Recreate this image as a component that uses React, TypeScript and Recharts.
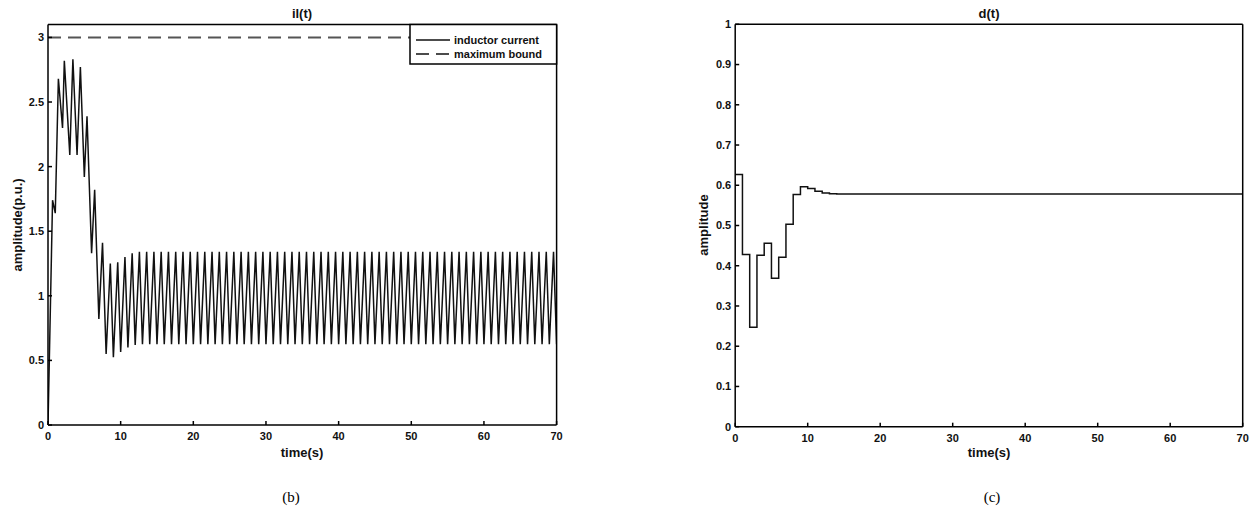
import React from 'react';
import { LineChart, Line, XAxis, YAxis } from 'recharts';

// time instants (s) of each switching period
const timeSteps = [
  0, 1, 2, 3, 4, 5, 6, 7, 8, 9,
  10, 11, 12, 13, 14, 15, 16, 17, 18, 19,
  20, 21, 22, 23, 24, 25, 26, 27, 28, 29,
  30, 31, 32, 33, 34, 35, 36, 37, 38, 39,
  40, 41, 42, 43, 44, 45, 46, 47, 48, 49,
  50, 51, 52, 53, 54, 55, 56, 57, 58, 59,
  60, 61, 62, 63, 64, 65, 66, 67, 68, 69,
  70,
];

// duty cycle d(t), held over each period
const dValues = [
  0.627, 0.428, 0.247, 0.426, 0.456, 0.369, 0.421, 0.503, 0.577, 0.596,
  0.592, 0.585, 0.581, 0.579, 0.578, 0.578, 0.578, 0.578, 0.578, 0.578,
  0.578, 0.578, 0.578, 0.578, 0.578, 0.578, 0.578, 0.578, 0.578, 0.578,
  0.578, 0.578, 0.578, 0.578, 0.578, 0.578, 0.578, 0.578, 0.578, 0.578,
  0.578, 0.578, 0.578, 0.578, 0.578, 0.578, 0.578, 0.578, 0.578, 0.578,
  0.578, 0.578, 0.578, 0.578, 0.578, 0.578, 0.578, 0.578, 0.578, 0.578,
  0.578, 0.578, 0.578, 0.578, 0.578, 0.578, 0.578, 0.578, 0.578, 0.578,
  0.578,
];

// inductor current at the start of each period (valleys)
const ilTroughs = [
  0, 1.64, 2.3, 2.09, 2.09, 1.92, 1.33, 0.82, 0.55, 0.525,
  0.565, 0.6, 0.62, 0.625, 0.625, 0.625, 0.625, 0.625, 0.625, 0.625,
  0.625, 0.625, 0.625, 0.625, 0.625, 0.625, 0.625, 0.625, 0.625, 0.625,
  0.625, 0.625, 0.625, 0.625, 0.625, 0.625, 0.625, 0.625, 0.625, 0.625,
  0.625, 0.625, 0.625, 0.625, 0.625, 0.625, 0.625, 0.625, 0.625, 0.625,
  0.625, 0.625, 0.625, 0.625, 0.625, 0.625, 0.625, 0.625, 0.625, 0.625,
  0.625, 0.625, 0.625, 0.625, 0.625, 0.625, 0.625, 0.625, 0.625, 0.625,
  0.625,
];

// inductor current at switch-off instant of each period (peaks)
const ilPeaks = [
  1.74, 2.68, 2.82, 2.83, 2.77, 2.39, 1.82, 1.41, 1.25, 1.26,
  1.3, 1.33, 1.34, 1.34, 1.34, 1.34, 1.34, 1.34, 1.34, 1.34,
  1.34, 1.34, 1.34, 1.34, 1.34, 1.34, 1.34, 1.34, 1.34, 1.34,
  1.34, 1.34, 1.34, 1.34, 1.34, 1.34, 1.34, 1.34, 1.34, 1.34,
  1.34, 1.34, 1.34, 1.34, 1.34, 1.34, 1.34, 1.34, 1.34, 1.34,
  1.34, 1.34, 1.34, 1.34, 1.34, 1.34, 1.34, 1.34, 1.34, 1.34,
  1.34, 1.34, 1.34, 1.34, 1.34, 1.34, 1.34, 1.34, 1.34, 1.34,
];

const boundTimes = [0, 70];
const boundValues = [3, 3];

const xTicks = [0, 10, 20, 30, 40, 50, 60, 70];
const ilTicks = [0, 0.5, 1, 1.5, 2, 2.5, 3];
const dTicks = [0, 0.1, 0.2, 0.3, 0.4, 0.5, 0.6, 0.7, 0.8, 0.9, 1];

const ilData: { t: number; il: number }[] = [];
for (let k = 0; k < ilPeaks.length; k++) {
  ilData.push({ t: timeSteps[k], il: ilTroughs[k] });
  ilData.push({ t: timeSteps[k] + dValues[k], il: ilPeaks[k] });
}
ilData.push({ t: timeSteps[timeSteps.length - 1], il: ilTroughs[ilTroughs.length - 1] });

const boundData = boundTimes.map((t, i) => ({ t, b: boundValues[i] }));
const dData = timeSteps.map((t, i) => ({ t, d: dValues[i] }));

const FONT = '"Liberation Sans", Arial, Helvetica, sans-serif';
const tickStyle = { fontFamily: FONT, fontSize: 11, fontWeight: 700, fill: '#111' };
const axisStroke = { stroke: '#000', strokeWidth: 1.5 };

function frameAxes(yDomain: [number, number], yTicks: number[], frameData: any[], key: string) {
  return [
    <XAxis
      key="xb"
      xAxisId="main"
      dataKey="t"
      type="number"
      domain={[0, 70]}
      ticks={xTicks}
      height={20}
      tickSize={-4}
      tickMargin={11}
      axisLine={axisStroke}
      tickLine={axisStroke}
      tick={tickStyle}
      allowDataOverflow
    />,
    <XAxis
      key="xt"
      xAxisId="top"
      orientation="top"
      dataKey="t"
      type="number"
      domain={[0, 70]}
      ticks={xTicks}
      height={1}
      tickSize={-4}
      axisLine={axisStroke}
      tickLine={axisStroke}
      tick={false}
      allowDataOverflow
    />,
    <YAxis
      key="yl"
      yAxisId="main"
      type="number"
      domain={yDomain}
      ticks={yTicks}
      width={40}
      tickSize={-4}
      tickMargin={8}
      axisLine={axisStroke}
      tickLine={axisStroke}
      tick={tickStyle}
      allowDataOverflow
    />,
    <YAxis
      key="yr"
      yAxisId="right"
      orientation="right"
      type="number"
      domain={yDomain}
      ticks={yTicks}
      width={1}
      tickSize={-4}
      axisLine={axisStroke}
      tickLine={axisStroke}
      tick={false}
      allowDataOverflow
    />,
    // invisible carrier so that the frame axes (top / right) are rendered
    <Line
      key="frame"
      xAxisId="top"
      yAxisId="right"
      data={frameData}
      dataKey={key}
      stroke="none"
      dot={false}
      activeDot={false}
      legendType="none"
      isAnimationActive={false}
    />,
  ];
}

export default function App() {
  return (
    <div style={{ position: 'absolute', left: 0, top: 0, width: 1254, height: 512, background: '#fff' }}>
      <div style={{ position: 'absolute', left: 0, top: 0 }}>
        <LineChart width={580} height={460} margin={{ top: 23.5, right: 22.4, bottom: 15, left: 8 }}>
          {frameAxes([0, 3.1], ilTicks, boundData, 'b')}
          <Line
            xAxisId="main"
            yAxisId="main"
            data={boundData}
            dataKey="b"
            type="linear"
            stroke="#555"
            strokeWidth={2}
            strokeDasharray="13 7"
            dot={false}
            isAnimationActive={false}
          />
          <Line
            xAxisId="main"
            yAxisId="main"
            data={ilData}
            dataKey="il"
            type="linear"
            stroke="#111"
            strokeWidth={1.5}
            dot={false}
            isAnimationActive={false}
          />
        </LineChart>
      </div>
      <div style={{ position: 'absolute', left: 690, top: 0 }}>
        <LineChart width={564} height={460} margin={{ top: 23.3, right: 10.3, bottom: 13.3, left: 5.2 }}>
          {frameAxes([0, 1], dTicks, dData, 'd')}
          <Line
            xAxisId="main"
            yAxisId="main"
            data={dData}
            dataKey="d"
            type="stepAfter"
            stroke="#111"
            strokeWidth={1.5}
            dot={false}
            isAnimationActive={false}
          />
        </LineChart>
      </div>
      <svg
        width={1254}
        height={512}
        style={{ position: 'absolute', left: 0, top: 0, pointerEvents: 'none' }}
      >
        <g fontFamily={FONT} fontWeight={700} fill="#111">
          <text x={302} y={13} fontSize={13} textAnchor="middle" dominantBaseline="central">il(t)</text>
          <text x={989} y={13} fontSize={13} textAnchor="middle" dominantBaseline="central">d(t)</text>
          <text x={302} y={452} fontSize={13} textAnchor="middle" dominantBaseline="central">time(s)</text>
          <text x={989} y={452} fontSize={13} textAnchor="middle" dominantBaseline="central">time(s)</text>
          <text x={17} y={225} fontSize={13} textAnchor="middle" dominantBaseline="central" transform="rotate(-90 17 225)">amplitude(p.u.)</text>
          <text x={703} y={225} fontSize={13} textAnchor="middle" dominantBaseline="central" transform="rotate(-90 703 225)">amplitude</text>
        </g>
        <g>
          <rect x={410} y={24.5} width={146.6} height={39.5} fill="#fff" stroke="#000" strokeWidth={1.5} />
          <line x1={416} y1={40} x2={450} y2={40} stroke="#111" strokeWidth={1.5} />
          <line x1={416} y1={54} x2={450} y2={54} stroke="#111" strokeWidth={1.5} strokeDasharray="13 7" />
          <text x={454} y={40} fontFamily={FONT} fontWeight={700} fontSize={11} fill="#111" dominantBaseline="central">inductor current</text>
          <text x={454} y={54} fontFamily={FONT} fontWeight={700} fontSize={11} fill="#111" dominantBaseline="central">maximum bound</text>
        </g>
        <g fontFamily='"Liberation Serif", "Times New Roman", serif' fontSize={15} fill="#000">
          <text x={291} y={497} textAnchor="middle" dominantBaseline="central">(b)</text>
          <text x={992} y={497} textAnchor="middle" dominantBaseline="central">(c)</text>
        </g>
      </svg>
    </div>
  );
}
